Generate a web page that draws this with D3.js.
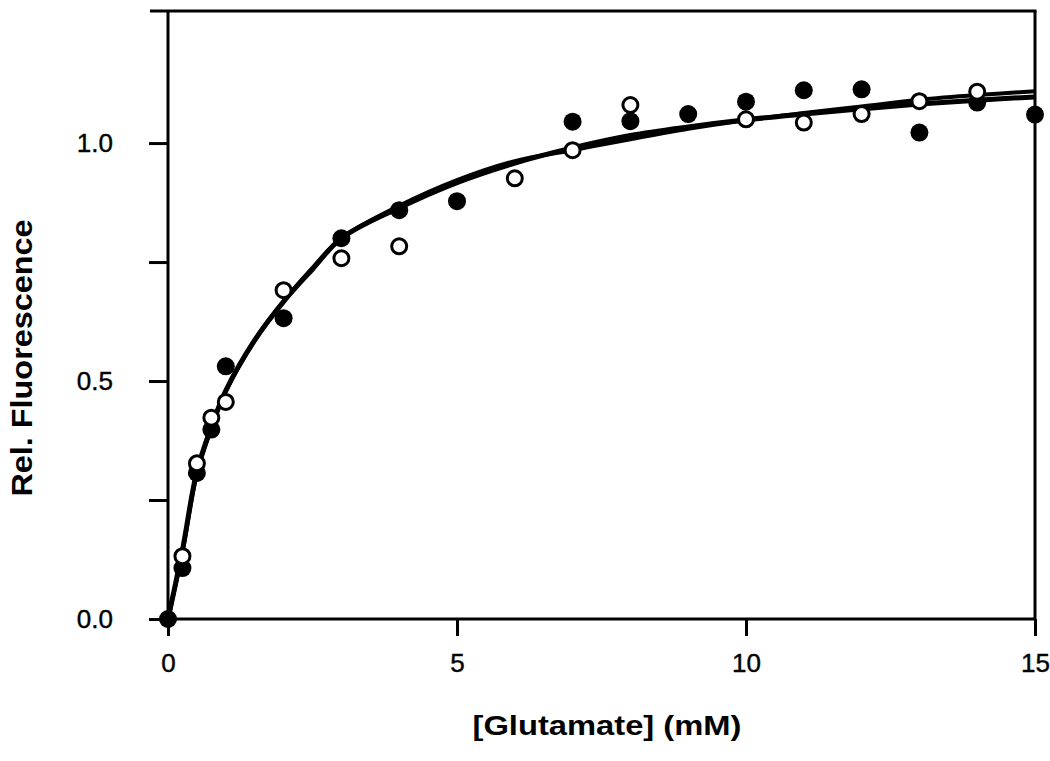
<!DOCTYPE html>
<html>
<head>
<meta charset="utf-8">
<script src="https://cdn.jsdelivr.net/npm/d3@7"></script>
<style>
  html, body { margin: 0; padding: 0; background: #fff; }
  svg { display: block; }
  text { font-family: "Liberation Sans", Arial, Helvetica, sans-serif; fill: #000; }
</style>
</head>
<body>
<svg id="chart" width="1050" height="761"></svg>
<script>
// ---- data ----
const xTicks = [0, 5, 10, 15];
const xTickLabels = ["0", "5", "10", "15"];
const yTicks = [0, 0.25, 0.5, 0.75, 1.0];
const yTickLabels = ["0.0", "", "0.5", "", "1.0"];

// filled circles
const filledX = [0, 0.25, 0.5, 0.75, 1, 2, 3, 4, 5, 7, 8, 9, 10, 11, 12, 13, 14, 15];
const filledY = [0, 0.107, 0.307, 0.398, 0.531, 0.632, 0.800, 0.859, 0.878, 1.045, 1.046, 1.061, 1.087, 1.111, 1.113, 1.022, 1.085, 1.060];

// open circles
const openX = [0.25, 0.5, 0.75, 1, 2, 3, 4, 6, 7, 8, 10, 11, 12, 13, 14];
const openY = [0.132, 0.327, 0.423, 0.456, 0.691, 0.758, 0.783, 0.926, 0.985, 1.080, 1.050, 1.043, 1.061, 1.088, 1.108];

// fitted curves
const curveX = [0, 0.25, 0.5, 0.75, 1, 1.5, 2, 2.5, 3, 4, 5, 6, 7, 8, 9, 10, 11, 12, 13, 14, 15];
const curveA = [0, 0.145, 0.310, 0.404, 0.480, 0.586, 0.667, 0.735, 0.800, 0.864, 0.917, 0.958, 0.990, 1.016, 1.034, 1.049, 1.061, 1.072, 1.082, 1.090, 1.097];
const curveB = [0, 0.140, 0.305, 0.400, 0.478, 0.585, 0.668, 0.738, 0.800, 0.868, 0.922, 0.962, 0.985, 1.008, 1.030, 1.048, 1.063, 1.077, 1.091, 1.101, 1.109];

const xTitle = "[Glutamate] (mM)";
const yTitle = "Rel. Fluorescence";

// ---- drawing ----
const svg = d3.select("#chart");
const x = d3.scaleLinear().domain([0, 15]).range([168, 1035]);
const y = d3.scaleLinear().domain([0, 1.2775]).range([619, 11]);

const AXW = 3;

// frame lines
svg.append("line").attr("x1", 150).attr("x2", x(15) + 1.5).attr("y1", y(1.2775)).attr("y2", y(1.2775))
  .attr("stroke", "#000").attr("stroke-width", AXW);
svg.append("line").attr("x1", x(15)).attr("x2", x(15)).attr("y1", y(1.2775)).attr("y2", y(0))
  .attr("stroke", "#000").attr("stroke-width", AXW);
svg.append("line").attr("x1", x(0)).attr("x2", x(0)).attr("y1", y(1.2775)).attr("y2", y(0))
  .attr("stroke", "#000").attr("stroke-width", AXW);
svg.append("line").attr("x1", x(0)).attr("x2", x(15)).attr("y1", y(0)).attr("y2", y(0))
  .attr("stroke", "#000").attr("stroke-width", AXW);

// x axis
const xAxis = d3.axisBottom(x).tickValues(xTicks)
  .tickFormat((d, i) => xTickLabels[i]).tickSize(17).tickSizeOuter(0).tickPadding(18);
const gx = svg.append("g").attr("transform", `translate(0,${y(0)})`).call(xAxis);
gx.select(".domain").remove();
gx.selectAll(".tick line").attr("stroke", "#000").attr("stroke-width", AXW);
gx.selectAll(".tick text").attr("font-size", 26).attr("font-family", "'Liberation Sans', Arial, sans-serif")
  .attr("stroke", "#000").attr("stroke-width", 0.4);

// y axis
const yAxis = d3.axisLeft(y).tickValues(yTicks)
  .tickFormat((d, i) => yTickLabels[i]).tickSize(19).tickSizeOuter(0).tickPadding(36);
const gy = svg.append("g").attr("transform", `translate(${x(0)},0)`).call(yAxis);
gy.select(".domain").remove();
gy.selectAll(".tick line").attr("stroke", "#000").attr("stroke-width", AXW);
gy.selectAll(".tick text").attr("font-size", 26).attr("font-family", "'Liberation Sans', Arial, sans-serif")
  .attr("stroke", "#000").attr("stroke-width", 0.4);

// axis titles
svg.append("text").attr("x", 607).attr("y", 735).attr("text-anchor", "middle")
  .attr("font-size", 28).attr("font-weight", "bold")
  .attr("textLength", 269).attr("lengthAdjust", "spacingAndGlyphs")
  .text(xTitle);
svg.append("text").attr("transform", "translate(32,358) rotate(-90)").attr("text-anchor", "middle")
  .attr("font-size", 29).attr("font-weight", "bold")
  .attr("textLength", 277).attr("lengthAdjust", "spacingAndGlyphs")
  .text(yTitle);

// curves
const line = d3.line().x(d => x(d[0])).y(d => y(d[1])).curve(d3.curveCatmullRom.alpha(0.5));
svg.append("path").datum(curveX.map((v, i) => [v, curveA[i]]))
  .attr("d", line).attr("fill", "none").attr("stroke", "#000").attr("stroke-width", 5);
svg.append("path").datum(curveX.map((v, i) => [v, curveB[i]]))
  .attr("d", line).attr("fill", "none").attr("stroke", "#000").attr("stroke-width", 4);

// points
svg.append("g").selectAll("circle").data(filledX.map((v, i) => [v, filledY[i]])).join("circle")
  .attr("cx", d => x(d[0])).attr("cy", d => y(d[1])).attr("r", 9).attr("fill", "#000");
svg.append("g").selectAll("circle").data(openX.map((v, i) => [v, openY[i]])).join("circle")
  .attr("cx", d => x(d[0])).attr("cy", d => y(d[1])).attr("r", 7.5)
  .attr("fill", "#fff").attr("stroke", "#000").attr("stroke-width", 3);
</script>
</body>
</html>
